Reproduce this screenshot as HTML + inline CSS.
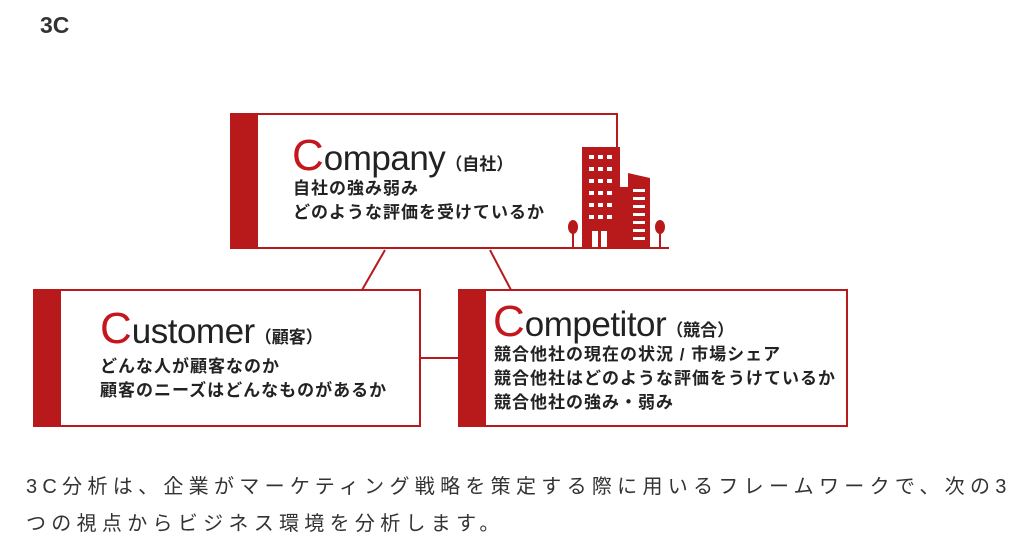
<!DOCTYPE html>
<html><head><meta charset="utf-8"><style>
body{margin:0;width:1023px;height:551px;background:#fff;position:relative;overflow:hidden;font-family:"Liberation Sans","Noto Sans CJK JP",sans-serif;}
.a{position:absolute;}
.box{position:absolute;border:2px solid #b8191b;box-sizing:border-box;background:#fff;}
.bar{position:absolute;left:0;top:0;bottom:0;width:26px;background:#b8191b;}
.t{position:absolute;white-space:nowrap;color:#222;font-weight:bold;}
.C{color:#c4161c;font-size:44px;font-weight:normal;}
.w{font-size:35px;font-weight:normal;letter-spacing:-0.5px;}
.s{font-size:17px;}
.l{font-size:17px;line-height:24px;letter-spacing:1px;}
</style></head><body>
<div class="t" style="left:40px;top:12px;font-size:23px;color:#333;">3C</div>
<svg class="a" style="left:0;top:0" width="1023" height="551">
<line x1="385" y1="250" x2="362" y2="290" stroke="#b8191b" stroke-width="2"/>
<line x1="490" y1="250" x2="511" y2="290" stroke="#b8191b" stroke-width="2"/>
<line x1="419" y1="358" x2="459" y2="358" stroke="#b8191b" stroke-width="2"/>
</svg>
<div class="box" style="left:230px;top:113px;width:388px;height:136px;"><div class="bar"></div></div>
<div class="box" style="left:33px;top:289px;width:388px;height:138px;"><div class="bar"></div></div>
<div class="box" style="left:458px;top:289px;width:390px;height:138px;"><div class="bar"></div></div>
<svg class="a" style="left:560px;top:145px" width="112" height="105">
<rect x="4" y="102" width="105" height="2" fill="#b8191b"/>
<rect x="22" y="2" width="38" height="100" fill="#b8191b"/>
<rect x="60" y="42" width="10" height="60" fill="#b8191b"/>
<polygon points="68,28 90,33 90,102 68,102" fill="#b8191b"/>
<g fill="#fff">
<rect x="29" y="10" width="5" height="4"/><rect x="38" y="10" width="5" height="4"/><rect x="47" y="10" width="5" height="4"/>
<rect x="29" y="22" width="5" height="4"/><rect x="38" y="22" width="5" height="4"/><rect x="47" y="22" width="5" height="4"/>
<rect x="29" y="34" width="5" height="4"/><rect x="38" y="34" width="5" height="4"/><rect x="47" y="34" width="5" height="4"/>
<rect x="29" y="46" width="5" height="4"/><rect x="38" y="46" width="5" height="4"/><rect x="47" y="46" width="5" height="4"/>
<rect x="29" y="58" width="5" height="4"/><rect x="38" y="58" width="5" height="4"/><rect x="47" y="58" width="5" height="4"/>
<rect x="29" y="70" width="5" height="4"/><rect x="38" y="70" width="5" height="4"/><rect x="47" y="70" width="5" height="4"/>
<rect x="32" y="86" width="6" height="16"/><rect x="41" y="86" width="6" height="16"/>
<rect x="73" y="44" width="12" height="3"/><rect x="73" y="52" width="12" height="3"/><rect x="73" y="60" width="12" height="3"/><rect x="73" y="68" width="12" height="3"/><rect x="73" y="76" width="12" height="3"/><rect x="73" y="84" width="12" height="3"/><rect x="73" y="92" width="12" height="3"/>
</g>
<ellipse cx="13" cy="82" rx="5" ry="7" fill="#b8191b"/><rect x="12" y="85" width="2" height="17" fill="#b8191b"/>
<ellipse cx="100" cy="82" rx="5" ry="7" fill="#b8191b"/><rect x="99" y="85" width="2" height="17" fill="#b8191b"/>
</svg>
<div class="t" style="left:292px;top:131px;"><span class="C">C</span><span class="w">ompany</span><span class="s">（自社）</span></div>
<div class="t l" style="left:293px;top:177px;">自社の強み弱み<br>どのような評価を受けているか</div>
<div class="t" style="left:100px;top:304px;"><span class="C">C</span><span class="w">ustomer</span><span class="s">（顧客）</span></div>
<div class="t l" style="left:100px;top:355px;">どんな人が顧客なのか<br>顧客のニーズはどんなものがあるか</div>
<div class="t" style="left:493px;top:297px;"><span class="C">C</span><span class="w">ompetitor</span><span class="s">（競合）</span></div>
<div class="t l" style="left:494px;top:343px;line-height:24px;">競合他社の現在の状況 / 市場シェア<br>競合他社はどのような評価をうけているか<br>競合他社の強み・弱み</div>
<div class="t" style="left:26px;top:469px;font-size:20px;font-weight:normal;color:#333;letter-spacing:5.3px;line-height:37px;">3C分析は、企業がマーケティング戦略を策定する際に用いるフレームワークで、次の3<br>つの視点からビジネス環境を分析します。</div>
</body></html>
